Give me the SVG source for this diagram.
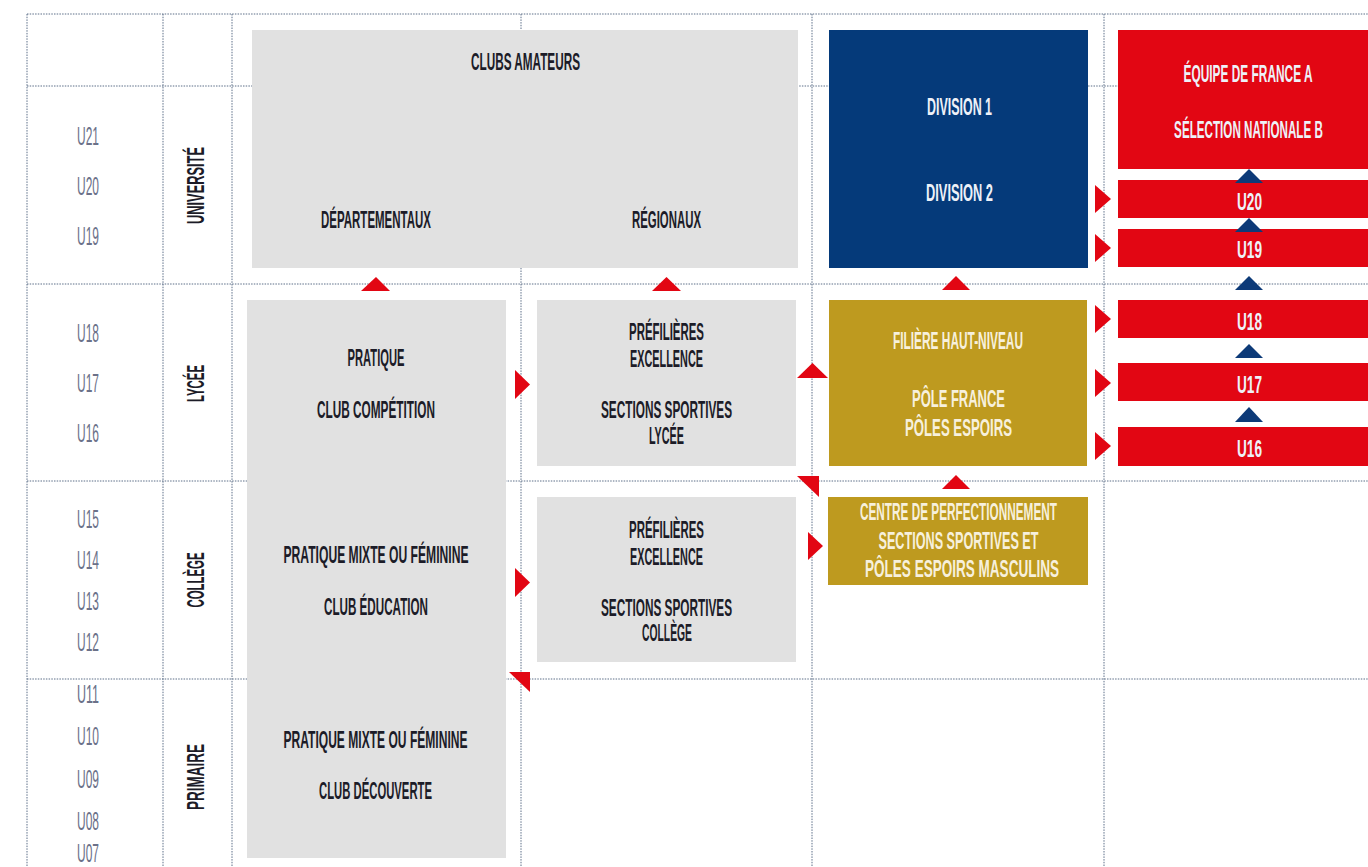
<svg xmlns="http://www.w3.org/2000/svg" width="1368" height="867" viewBox="0 0 1368 867">
<style>
  .grid line { stroke: #5d6f88; stroke-width: 1; stroke-dasharray: 1.5 1.2; }
  .grey { fill: #e1e1e1; }
  .blue { fill: #053a7a; }
  .red { fill: #e20613; }
  .gold { fill: #be9a1f; }
  .t { font-family: "Liberation Sans Narrow", "Liberation Sans", Arial, sans-serif; font-weight: bold; font-size: 23px; text-anchor: middle; }
  .dk { fill: #1c1c28; }
  .wh { fill: #eef1f8; }
  .cr { fill: #f7f0dc; }
  .age { font-family: "Liberation Sans Narrow", "Liberation Sans", Arial, sans-serif; font-weight: normal; font-size: 25px; text-anchor: middle; fill: #6b7189; }
  .ra { fill: #e20613; }
  .ba { fill: #0d3a78; }
</style>
<rect x="0" y="0" width="1368" height="867" fill="#ffffff"/>

<g id="grid" class="grid">
  <line x1="27" y1="14" x2="1368" y2="14"/>
  <line x1="27" y1="86" x2="1368" y2="86"/>
  <line x1="27" y1="284" x2="1368" y2="284"/>
  <line x1="27" y1="481" x2="1368" y2="481"/>
  <line x1="27" y1="679" x2="1368" y2="679"/>
  <line x1="27" y1="14" x2="27" y2="867"/>
  <line x1="163" y1="14" x2="163" y2="867"/>
  <line x1="232" y1="14" x2="232" y2="867"/>
  <line x1="521" y1="14" x2="521" y2="867"/>
  <line x1="812" y1="14" x2="812" y2="867"/>
  <line x1="1104" y1="14" x2="1104" y2="867"/>
</g>

<g id="ages">
  <text class="age" x="88" y="145" textLength="22" lengthAdjust="spacingAndGlyphs">U21</text>
  <text class="age" x="88" y="195" textLength="22" lengthAdjust="spacingAndGlyphs">U20</text>
  <text class="age" x="88" y="245" textLength="22" lengthAdjust="spacingAndGlyphs">U19</text>
  <text class="age" x="88" y="342" textLength="22" lengthAdjust="spacingAndGlyphs">U18</text>
  <text class="age" x="88" y="392" textLength="22" lengthAdjust="spacingAndGlyphs">U17</text>
  <text class="age" x="88" y="442" textLength="22" lengthAdjust="spacingAndGlyphs">U16</text>
  <text class="age" x="88" y="528" textLength="22" lengthAdjust="spacingAndGlyphs">U15</text>
  <text class="age" x="88" y="569" textLength="22" lengthAdjust="spacingAndGlyphs">U14</text>
  <text class="age" x="88" y="610" textLength="22" lengthAdjust="spacingAndGlyphs">U13</text>
  <text class="age" x="88" y="651" textLength="22" lengthAdjust="spacingAndGlyphs">U12</text>
  <text class="age" x="88" y="703" textLength="22" lengthAdjust="spacingAndGlyphs">U11</text>
  <text class="age" x="88" y="745" textLength="22" lengthAdjust="spacingAndGlyphs">U10</text>
  <text class="age" x="88" y="788" textLength="22" lengthAdjust="spacingAndGlyphs">U09</text>
  <text class="age" x="88" y="830" textLength="22" lengthAdjust="spacingAndGlyphs">U08</text>
  <text class="age" x="88" y="862" textLength="22" lengthAdjust="spacingAndGlyphs">U07</text>
</g>

<g id="levels">
  <text class="t dk" transform="translate(204,185.5) rotate(-90)" x="0" y="0" textLength="77" lengthAdjust="spacingAndGlyphs">UNIVERSITÉ</text>
  <text class="t dk" transform="translate(204,383.5) rotate(-90)" x="0" y="0" textLength="37" lengthAdjust="spacingAndGlyphs">LYCÉE</text>
  <text class="t dk" transform="translate(204,580) rotate(-90)" x="0" y="0" textLength="55" lengthAdjust="spacingAndGlyphs">COLLÈGE</text>
  <text class="t dk" transform="translate(204,777) rotate(-90)" x="0" y="0" textLength="66" lengthAdjust="spacingAndGlyphs">PRIMAIRE</text>
</g>

<g id="clubs-amateurs">
  <rect class="grey" x="252" y="30" width="546" height="238"/>
  <text class="t dk" x="525.5" y="70" textLength="109" lengthAdjust="spacingAndGlyphs">CLUBS AMATEURS</text>
  <text class="t dk" x="376" y="228" textLength="110" lengthAdjust="spacingAndGlyphs">DÉPARTEMENTAUX</text>
  <text class="t dk" x="666.5" y="228" textLength="69" lengthAdjust="spacingAndGlyphs">RÉGIONAUX</text>
</g>

<g id="pratique-clubs">
  <rect class="grey" x="247" y="300" width="259" height="558"/>
  <text class="t dk" x="376" y="366" textLength="57" lengthAdjust="spacingAndGlyphs">PRATIQUE</text>
  <text class="t dk" x="376" y="418" textLength="118" lengthAdjust="spacingAndGlyphs">CLUB COMPÉTITION</text>
  <text class="t dk" x="376" y="563" textLength="185" lengthAdjust="spacingAndGlyphs">PRATIQUE MIXTE OU FÉMININE</text>
  <text class="t dk" x="376" y="615" textLength="104" lengthAdjust="spacingAndGlyphs">CLUB ÉDUCATION</text>
  <text class="t dk" x="375.5" y="748" textLength="184" lengthAdjust="spacingAndGlyphs">PRATIQUE MIXTE OU FÉMININE</text>
  <text class="t dk" x="375.5" y="799" textLength="113" lengthAdjust="spacingAndGlyphs">CLUB DÉCOUVERTE</text>
</g>

<g id="prefilieres-lycee">
  <rect class="grey" x="537" y="300" width="259" height="166"/>
  <text class="t dk" x="666.5" y="340" textLength="75" lengthAdjust="spacingAndGlyphs">PRÉFILIÈRES</text>
  <text class="t dk" x="666.5" y="367" textLength="73" lengthAdjust="spacingAndGlyphs">EXCELLENCE</text>
  <text class="t dk" x="666.5" y="418" textLength="131" lengthAdjust="spacingAndGlyphs">SECTIONS SPORTIVES</text>
  <text class="t dk" x="666.5" y="444" textLength="35" lengthAdjust="spacingAndGlyphs">LYCÉE</text>
</g>

<g id="prefilieres-college">
  <rect class="grey" x="537" y="497" width="259" height="165"/>
  <text class="t dk" x="666.5" y="538" textLength="75" lengthAdjust="spacingAndGlyphs">PRÉFILIÈRES</text>
  <text class="t dk" x="666.5" y="565" textLength="73" lengthAdjust="spacingAndGlyphs">EXCELLENCE</text>
  <text class="t dk" x="666.5" y="616" textLength="131" lengthAdjust="spacingAndGlyphs">SECTIONS SPORTIVES</text>
  <text class="t dk" x="667" y="641" textLength="50" lengthAdjust="spacingAndGlyphs">COLLÈGE</text>
</g>

<g id="divisions">
  <rect class="blue" x="829" y="30" width="259" height="238"/>
  <text class="t wh" x="959.5" y="115" textLength="65" lengthAdjust="spacingAndGlyphs" font-size="24">DIVISION 1</text>
  <text class="t wh" x="959.5" y="201" textLength="67" lengthAdjust="spacingAndGlyphs" font-size="24">DIVISION 2</text>
</g>

<g id="filiere-haut-niveau">
  <rect class="gold" x="829" y="300" width="258" height="166"/>
  <text class="t cr" x="958" y="349" textLength="130" lengthAdjust="spacingAndGlyphs" font-size="21">FILIÈRE HAUT-NIVEAU</text>
  <text class="t cr" x="958.5" y="407" textLength="93" lengthAdjust="spacingAndGlyphs" font-size="27">PÔLE FRANCE</text>
  <text class="t cr" x="958.5" y="436" textLength="107" lengthAdjust="spacingAndGlyphs" font-size="27">PÔLES ESPOIRS</text>
</g>

<g id="centre-perfectionnement">
  <rect class="gold" x="828" y="497" width="260" height="88"/>
  <text class="t cr" x="958.5" y="520" textLength="197" lengthAdjust="spacingAndGlyphs">CENTRE DE PERFECTIONNEMENT</text>
  <text class="t cr" x="958.5" y="549" textLength="160" lengthAdjust="spacingAndGlyphs">SECTIONS SPORTIVES ET</text>
  <text class="t cr" x="962" y="577" textLength="194" lengthAdjust="spacingAndGlyphs">PÔLES ESPOIRS MASCULINS</text>
</g>

<g id="equipe-de-france">
  <rect class="red" x="1118" y="30" width="250" height="139"/>
  <text class="t wh" transform="translate(1248,82) scale(0.6,1)" x="0" y="0" textLength="215" lengthAdjust="spacingAndGlyphs">ÉQUIPE DE FRANCE A</text>
  <text class="t wh" transform="translate(1248.5,138) scale(0.6,1)" x="0" y="0" textLength="248" lengthAdjust="spacingAndGlyphs">SÉLECTION NATIONALE B</text>
</g>
<g id="u20">
  <rect class="red" x="1118" y="180" width="250" height="38"/>
  <text class="t wh" x="1249.5" y="210" textLength="25" lengthAdjust="spacingAndGlyphs" font-size="24">U20</text>
</g>
<g id="u19">
  <rect class="red" x="1118" y="229" width="250" height="38"/>
  <text class="t wh" x="1249.5" y="258" textLength="25" lengthAdjust="spacingAndGlyphs" font-size="24">U19</text>
</g>
<g id="u18">
  <rect class="red" x="1118" y="300" width="250" height="38"/>
  <text class="t wh" x="1249.5" y="330" textLength="25" lengthAdjust="spacingAndGlyphs" font-size="24">U18</text>
</g>
<g id="u17">
  <rect class="red" x="1118" y="363" width="250" height="38"/>
  <text class="t wh" x="1249.5" y="393" textLength="25" lengthAdjust="spacingAndGlyphs" font-size="24">U17</text>
</g>
<g id="u16">
  <rect class="red" x="1118" y="427" width="250" height="39"/>
  <text class="t wh" x="1249.5" y="457" textLength="25" lengthAdjust="spacingAndGlyphs" font-size="24">U16</text>
</g>

<g id="connectors">
  <polygon class="ra" points="361,291 376,277 390,291"/>
  <polygon class="ra" points="652,291 666.5,277 681,291"/>
  <polygon class="ra" points="942,290 956,276 970,290"/>
  <polygon class="ra" points="942,489 956,475 970,489"/>
  <polygon class="ra" points="797,378 812.5,363 828,378"/>
  <polygon class="ra" points="515,370 530,384.5 515,399"/>
  <polygon class="ra" points="515,568 530,582.5 515,597"/>
  <polygon class="ra" points="808,532 823,546 808,560"/>
  <polygon class="ra" points="1095,185 1111,199 1095,213"/>
  <polygon class="ra" points="1095,234 1111,248 1095,262"/>
  <polygon class="ra" points="1095,305 1111,319 1095,333"/>
  <polygon class="ra" points="1095,369 1111,383 1095,397"/>
  <polygon class="ra" points="1095,432 1111,446 1095,460"/>
  <polygon class="ra" points="797,476 819,476 819,497"/>
  <polygon class="ra" points="509,672 530,672 530,692"/>
  <polygon class="ba" points="1235,183 1249,169 1263,183"/>
  <polygon class="ba" points="1235,232 1249,218 1263,232"/>
  <polygon class="ba" points="1235,290 1249,276 1263,290"/>
  <polygon class="ba" points="1235,358 1249,344 1263,358"/>
  <polygon class="ba" points="1235,422 1249,407 1263,422"/>
</g>
</svg>
